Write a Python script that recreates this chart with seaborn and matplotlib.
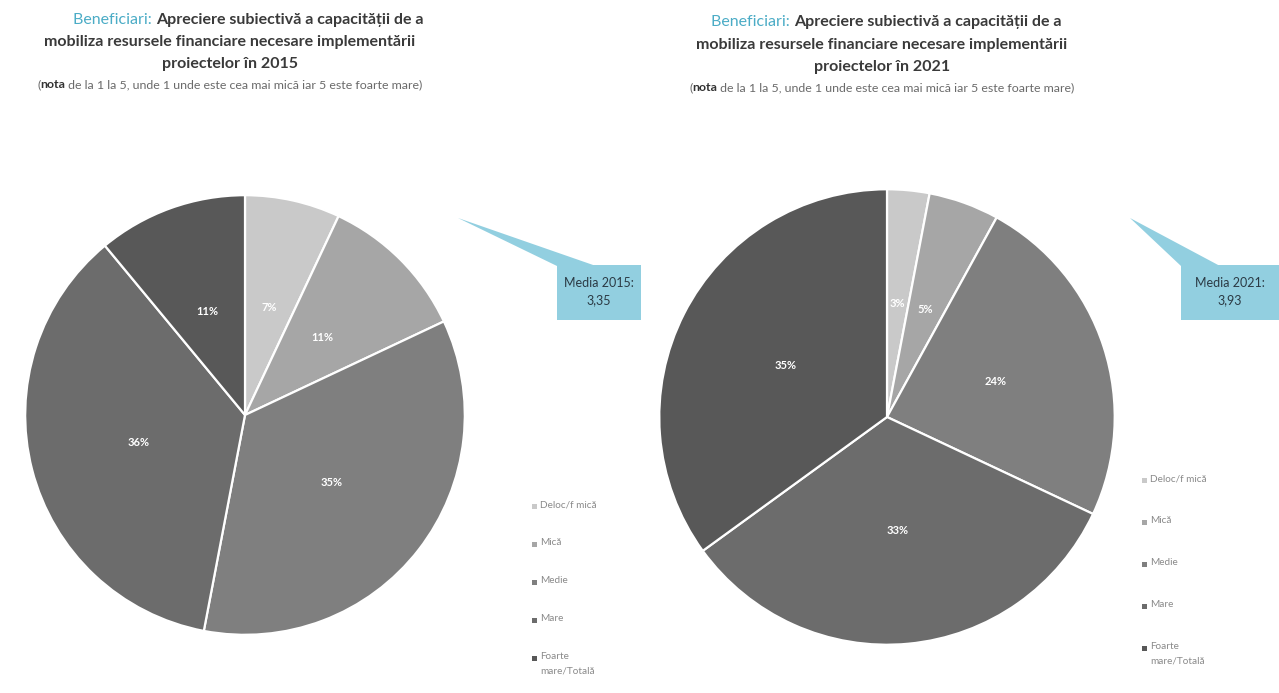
import matplotlib
matplotlib.use("Agg")
import matplotlib.pyplot as plt
from matplotlib.patches import Polygon
import seaborn as sns

# Response categories (rating 1..5)
categories = ["Deloc/f mică", "Mică", "Medie", "Mare", "Foarte\nmare/Totală"]
shares_2015 = [7, 11, 35, 36, 11]
shares_2021 = [3, 5, 24, 33, 35]
mean_2015 = "3,35"
mean_2021 = "3,93"

sns.set_theme(style="white")
plt.rcParams["font.family"] = ["Lato", "DejaVu Sans"]

grays = ["#c9c9c9", "#a6a6a6", "#7f7f7f", "#6c6c6c", "#585858"]
palette = sns.color_palette(grays)

W, H = 1279, 693
fig = plt.figure(figsize=(W / 100, H / 100), dpi=100)
fig.patch.set_facecolor("white")


def to_fig(x, y):
    """Pixel position (origin top-left) to figure fraction."""
    return x / W, 1 - y / H


def add_pie(cx, cy, r, values):
    ax = fig.add_axes([(cx - r) / W, (H - cy - r) / H, 2 * r / W, 2 * r / H])
    ax.pie(values, colors=palette, startangle=90, counterclock=False,
           autopct="%.0f%%", pctdistance=0.5, radius=1,
           wedgeprops=dict(edgecolor="white", linewidth=1.6),
           textprops=dict(color="white", fontsize=8, fontweight="bold"))
    ax.set_xlim(-1.01, 1.01)
    ax.set_ylim(-1.01, 1.01)
    ax.set_aspect("equal")
    ax.axis("off")
    return ax


add_pie(245, 415, 222, shares_2015)
add_pie(887, 417, 230, shares_2021)

renderer = fig.canvas.get_renderer()


def mixed_line(cx, y, parts, size):
    """Draw a centred line made of differently styled pieces."""
    texts = []
    for s, color, weight in parts:
        t = fig.text(0, 0, s, color=color, fontsize=size, fontweight=weight,
                     ha="left", va="baseline")
        texts.append(t)
    widths = [t.get_window_extent(renderer).width for t in texts]
    x = cx - sum(widths) / 2
    for t, w in zip(texts, widths):
        t.set_position(to_fig(x, y))
        x += w


blue = "#4bacc6"
dark = "#3a3a3a"
note_col = "#6a6a6a"


def title_block(cx, cx_first, ys, year):
    size = 11.5
    mixed_line(cx_first, ys[0], [("Beneficiari: ", blue, "normal"),
                                 ("Apreciere subiectivă a capacității de a", dark, "bold")], size)
    mixed_line(cx, ys[1], [("mobiliza resursele financiare necesare implementării",
                            dark, "bold")], size)
    mixed_line(cx, ys[2], [(f"proiectelor în {year}", dark, "bold")], size)
    mixed_line(cx, ys[3], [("(", note_col, "normal"), ("nota", "#333333", "bold"),
                           (" de la 1 la 5, unde 1 unde este cea mai mică iar 5 este foarte mare)",
                            note_col, "normal")], 8.9)


title_block(230, 248, [24, 46, 68, 88], 2015)
title_block(882, 886, [26, 49, 71, 91], 2021)


def callout(box, tip, base, lines):
    x0, y0, x1, y1 = box
    color = "#92cfe0"
    pts = [(tip[0], tip[1]), (base[0], y0 + 1), (base[1], y0 + 1)]
    fig.patches.append(Polygon([to_fig(*p) for p in pts], closed=True,
                               transform=fig.transFigure, facecolor=color,
                               edgecolor="none"))
    rect = [(x0, y0), (x1, y0), (x1, y1), (x0, y1)]
    fig.patches.append(Polygon([to_fig(*p) for p in rect], closed=True,
                               transform=fig.transFigure, facecolor=color,
                               edgecolor="none"))
    cx = (x0 + x1) / 2
    for i, s in enumerate(lines):
        fig.text(*to_fig(cx, y0 + 18 + i * 17), s, color="#2b3a44",
                 fontsize=9, ha="center", va="center")


callout((557, 265, 641, 320), (458, 218), (557, 596), ["Media 2015:", mean_2015])
callout((1181, 265, 1279, 320), (1130, 218), (1181, 1220), ["Media 2021:", mean_2021])


def legend(x, ys):
    for color, label, y in zip(palette, categories, ys):
        fig.patches.append(Polygon(
            [to_fig(x - 2.5, y - 2.5), to_fig(x + 2.5, y - 2.5),
             to_fig(x + 2.5, y + 2.5), to_fig(x - 2.5, y + 2.5)],
            closed=True, transform=fig.transFigure, facecolor=color,
            edgecolor="none"))
        fig.text(*to_fig(x + 6, y - 6), label, color="#8a8a8a", fontsize=7.2,
                 ha="left", va="top", linespacing=1.8)


legend(534, [506, 544, 582, 620, 658])
legend(1144, [480, 522, 564, 606, 648])

fig.savefig("out.png", dpi=100, facecolor="white")
